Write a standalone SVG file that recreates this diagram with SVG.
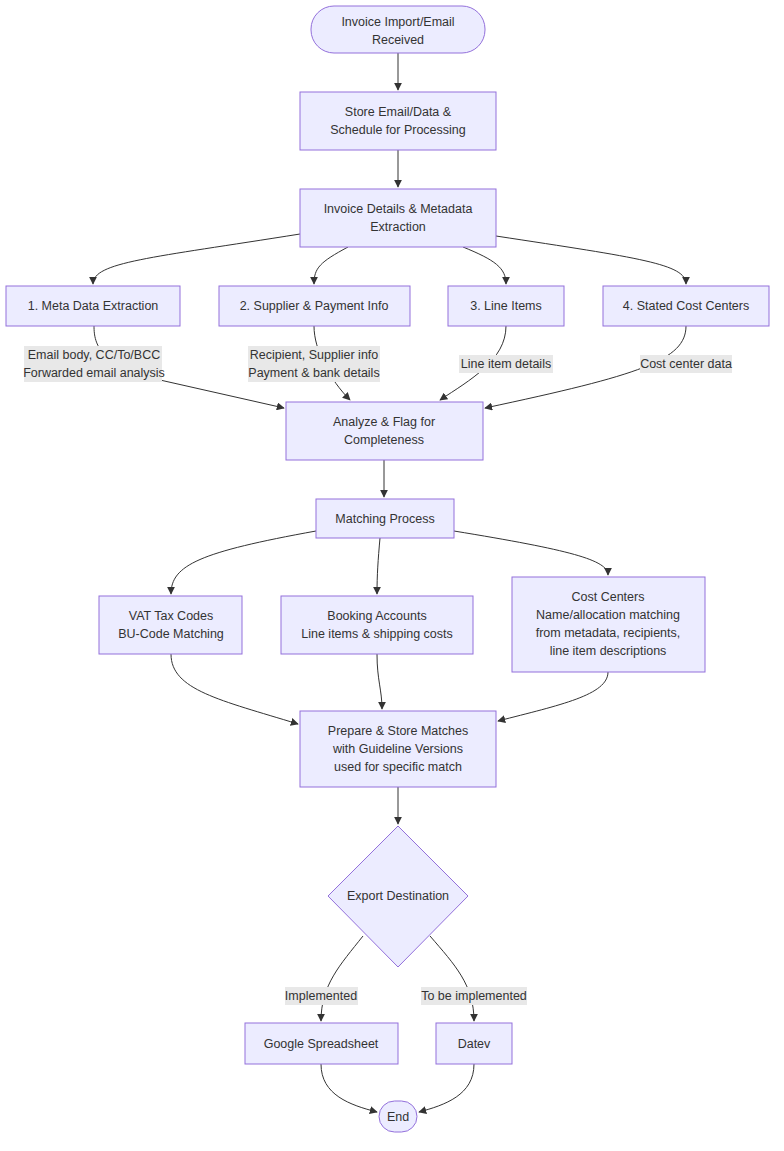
<svg xmlns="http://www.w3.org/2000/svg" width="784" height="1151" viewBox="0 0 784 1151">
<defs>
<marker id="arr" viewBox="0 0 10 10" refX="9" refY="5" markerWidth="8" markerHeight="8" orient="auto"><path d="M0,0 L10,5 L0,10 z" fill="#333"/></marker>
<style>
.n{fill:#ECECFF;stroke:#9370DB;stroke-width:1}
.t{font-family:"Liberation Sans",Arial,sans-serif;font-size:12.5px;fill:#333;text-anchor:middle;dominant-baseline:central}
.e{fill:none;stroke:#333;stroke-width:1}
.lb{fill:#e8e8e8}
</style>
</defs>
<rect width="784" height="1151" fill="#fff"/>
<g id="connectors">
<path class="e" marker-end="url(#arr)" d="M398,53 L398,90"/>
<path class="e" marker-end="url(#arr)" d="M398,150 L398,187"/>
<path class="e" marker-end="url(#arr)" d="M300,234 C150,258 93,262 93,284"/>
<path class="e" marker-end="url(#arr)" d="M348,247 C320,262 314,268 314,284"/>
<path class="e" marker-end="url(#arr)" d="M463,247 C495,260 506,268 506,284"/>
<path class="e" marker-end="url(#arr)" d="M496,236 C640,258 686,264 686,284"/>
<path class="e" marker-end="url(#arr)" d="M94,326 C94,345 100,365 160,380 L284,408"/>
<path class="e" marker-end="url(#arr)" d="M314,326 C314,350 330,380 350,400"/>
<path class="e" marker-end="url(#arr)" d="M506,326 C506,360 470,380 440,400"/>
<path class="e" marker-end="url(#arr)" d="M686,326 C686,360 640,375 485,408"/>
<path class="e" marker-end="url(#arr)" d="M384,460 L384,497"/>
<path class="e" marker-end="url(#arr)" d="M316,531 C200,552 171,565 171,594"/>
<path class="e" marker-end="url(#arr)" d="M380,538 C378,560 377,575 377,594"/>
<path class="e" marker-end="url(#arr)" d="M454,531 C570,550 608,560 608,575"/>
<path class="e" marker-end="url(#arr)" d="M171,654 C171,690 220,700 298,724"/>
<path class="e" marker-end="url(#arr)" d="M377,654 C377,680 382,690 382,709"/>
<path class="e" marker-end="url(#arr)" d="M608,672 C608,695 560,705 498,721"/>
<path class="e" marker-end="url(#arr)" d="M398,787 L398,824"/>
<path class="e" marker-end="url(#arr)" d="M363,936 C340,965 321,985 321,1021"/>
<path class="e" marker-end="url(#arr)" d="M430,936 C455,965 474,985 474,1021"/>
<path class="e" marker-end="url(#arr)" d="M321,1064 C321,1095 350,1105 377,1112"/>
<path class="e" marker-end="url(#arr)" d="M474,1064 C474,1095 445,1105 419,1112"/>
</g>
<g id="edge-labels">
<rect class="lb" x="24" y="346" width="138" height="36"/>
<text class="t" x="94" y="355">Email body, CC/To/BCC</text>
<text class="t" x="94" y="373">Forwarded email analysis</text>
<rect class="lb" x="248" y="346" width="132" height="36"/>
<text class="t" x="314" y="355">Recipient, Supplier info</text>
<text class="t" x="314" y="373">Payment &amp; bank details</text>
<rect class="lb" x="459" y="355" width="94" height="18"/>
<text class="t" x="506" y="364">Line item details</text>
<rect class="lb" x="640" y="355" width="92" height="18"/>
<text class="t" x="686" y="364">Cost center data</text>
<rect class="lb" x="285" y="987" width="73" height="18"/>
<text class="t" x="321" y="996">Implemented</text>
<rect class="lb" x="421" y="987" width="106" height="18"/>
<text class="t" x="474" y="996">To be implemented</text>
</g>
<g id="start"><rect class="n" x="311" y="6" width="174" height="47" rx="23"/><text class="t" x="398" y="22">Invoice Import/Email</text><text class="t" x="398" y="40">Received</text></g>
<g id="store"><rect class="n" x="300" y="92" width="196" height="58"/><text class="t" x="398" y="112">Store Email/Data &amp;</text><text class="t" x="398" y="130">Schedule for Processing</text></g>
<g id="details"><rect class="n" x="300" y="189" width="196" height="58"/><text class="t" x="398" y="209">Invoice Details &amp; Metadata</text><text class="t" x="398" y="227">Extraction</text></g>
<g id="meta"><rect class="n" x="6" y="286" width="174" height="40"/><text class="t" x="93" y="306">1. Meta Data Extraction</text></g>
<g id="supplier"><rect class="n" x="219" y="286" width="191" height="40"/><text class="t" x="314" y="306">2. Supplier &amp; Payment Info</text></g>
<g id="lineitems"><rect class="n" x="448" y="286" width="116" height="40"/><text class="t" x="506" y="306">3. Line Items</text></g>
<g id="costcenters"><rect class="n" x="603" y="286" width="166" height="40"/><text class="t" x="686" y="306">4. Stated Cost Centers</text></g>
<g id="analyze"><rect class="n" x="286" y="402" width="197" height="58"/><text class="t" x="384" y="422">Analyze &amp; Flag for</text><text class="t" x="384" y="440">Completeness</text></g>
<g id="matching"><rect class="n" x="316" y="499" width="138" height="39"/><text class="t" x="385" y="519">Matching Process</text></g>
<g id="vat"><rect class="n" x="99" y="596" width="143" height="58"/><text class="t" x="171" y="616">VAT Tax Codes</text><text class="t" x="171" y="634">BU-Code Matching</text></g>
<g id="booking"><rect class="n" x="281" y="596" width="192" height="58"/><text class="t" x="377" y="616">Booking Accounts</text><text class="t" x="377" y="634">Line items &amp; shipping costs</text></g>
<g id="cost"><rect class="n" x="512" y="577" width="193" height="95"/><text class="t" x="608" y="597">Cost Centers</text><text class="t" x="608" y="615">Name/allocation matching</text><text class="t" x="608" y="633">from metadata, recipients,</text><text class="t" x="608" y="651">line item descriptions</text></g>
<g id="prepare"><rect class="n" x="300" y="711" width="196" height="76"/><text class="t" x="398" y="731">Prepare &amp; Store Matches</text><text class="t" x="398" y="749">with Guideline Versions</text><text class="t" x="398" y="767">used for specific match</text></g>
<g id="export"><polygon class="n" points="398,826 468,896 398,967 328,896"/><text class="t" x="398" y="896">Export Destination</text></g>
<g id="google"><rect class="n" x="245" y="1023" width="153" height="41"/><text class="t" x="321" y="1044">Google Spreadsheet</text></g>
<g id="datev"><rect class="n" x="436" y="1023" width="76" height="41"/><text class="t" x="474" y="1044">Datev</text></g>
<g id="end"><rect class="n" x="379" y="1101" width="38" height="31" rx="15.5"/><text class="t" x="398" y="1117">End</text></g>
</svg>
